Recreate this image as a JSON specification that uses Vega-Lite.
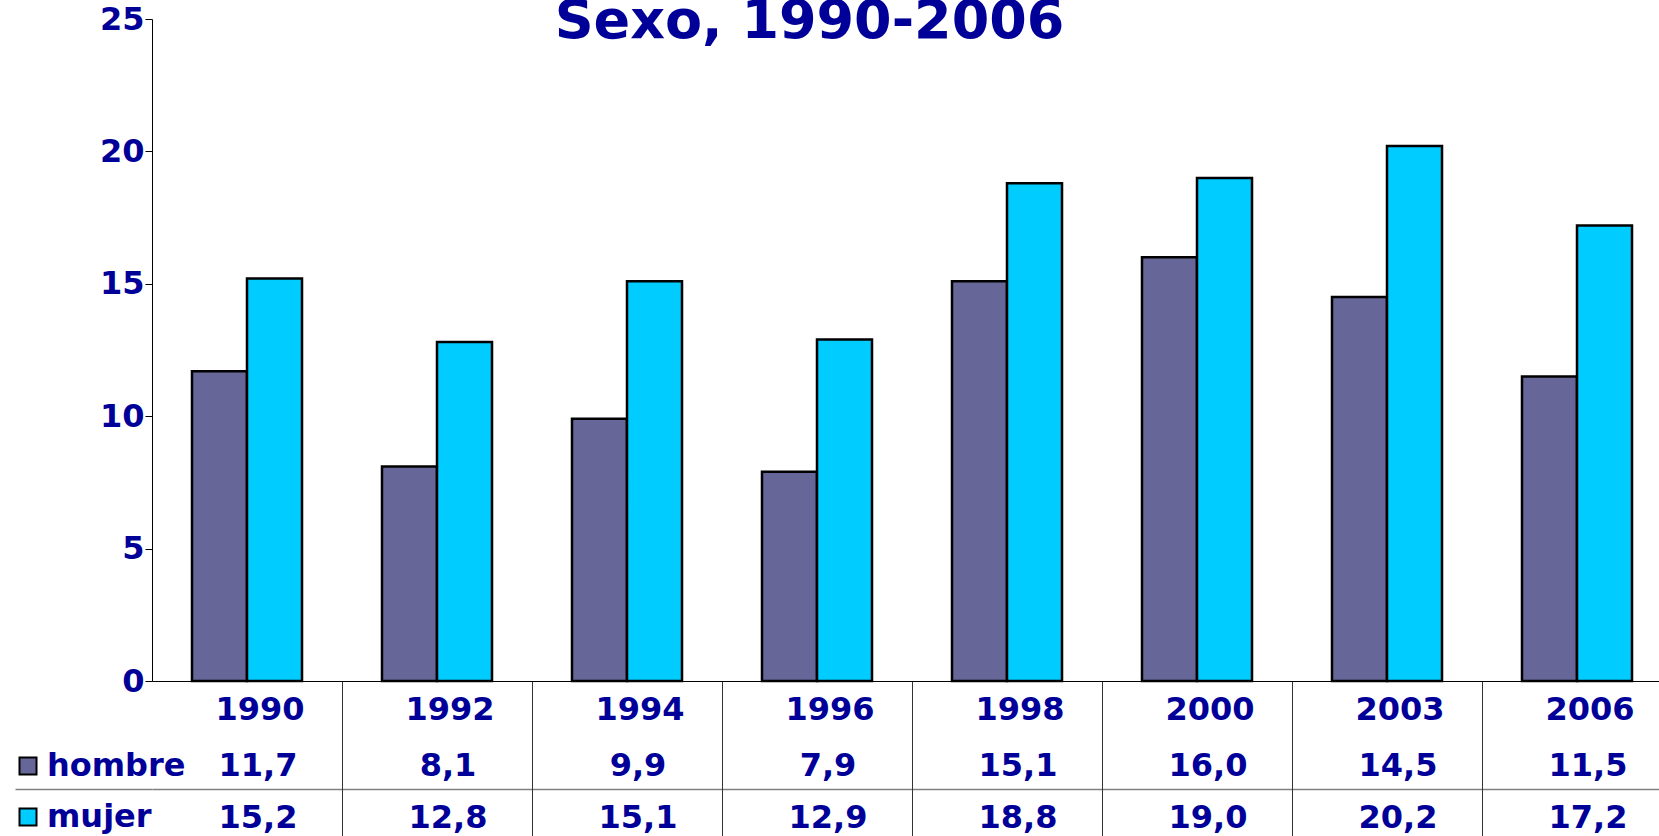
{
  "$schema": "https://vega.github.io/schema/vega-lite/v6.json",
  "width": 1507,
  "height": 662,
  "autosize": {"type": "none"},
  "padding": {"left": 152, "top": 19, "right": 0, "bottom": 155},
  "background": "white",
  "title": {
    "text": "Sexo, 1990-2006",
    "font": "DejaVu Sans",
    "fontSize": 54,
    "fontWeight": "bold",
    "color": "#000099",
    "anchor": "middle",
    "frame": "group",
    "baseline": "alphabetic",
    "dx": -96,
    "offset": -89
  },
  "data": {
    "values": [
      {"anio": "1990", "sexo": "hombre", "valor": 11.7},
      {"anio": "1990", "sexo": "mujer", "valor": 15.2},
      {"anio": "1992", "sexo": "hombre", "valor": 8.1},
      {"anio": "1992", "sexo": "mujer", "valor": 12.8},
      {"anio": "1994", "sexo": "hombre", "valor": 9.9},
      {"anio": "1994", "sexo": "mujer", "valor": 15.1},
      {"anio": "1996", "sexo": "hombre", "valor": 7.9},
      {"anio": "1996", "sexo": "mujer", "valor": 12.9},
      {"anio": "1998", "sexo": "hombre", "valor": 15.1},
      {"anio": "1998", "sexo": "mujer", "valor": 18.8},
      {"anio": "2000", "sexo": "hombre", "valor": 16.0},
      {"anio": "2000", "sexo": "mujer", "valor": 19.0},
      {"anio": "2003", "sexo": "hombre", "valor": 14.5},
      {"anio": "2003", "sexo": "mujer", "valor": 20.2},
      {"anio": "2006", "sexo": "hombre", "valor": 11.5},
      {"anio": "2006", "sexo": "mujer", "valor": 17.2}
    ]
  },
  "layer": [
    {
      "mark": {"type": "bar", "stroke": "black", "strokeWidth": 2.5},
      "encoding": {
        "x": {
          "field": "anio",
          "type": "nominal",
          "sort": null,
          "scale": {"paddingInner": 0, "paddingOuter": 0, "range": [0, 1520]},
          "axis": {
            "title": null,
            "orient": "bottom",
            "domain": true,
            "domainColor": "black",
            "domainWidth": 1,
            "ticks": true,
            "bandPosition": 1,
            "tickSize": 160,
            "tickColor": "#333333",
            "tickWidth": 1,
            "labelAngle": 0,
            "labelFont": "DejaVu Sans",
            "labelFontSize": 32,
            "labelFontWeight": "bold",
            "labelColor": "#000099",
            "labelBaseline": "middle",
            "labelPadding": -132,
            "labelOffset": 13,
            "grid": false
          }
        },
        "xOffset": {
          "field": "sexo",
          "type": "nominal",
          "scale": {"domain": ["hombre", "mujer"], "paddingInner": 0, "paddingOuter": 0.727}
        },
        "y": {
          "field": "valor",
          "type": "quantitative",
          "scale": {"domain": [0, 25], "nice": false},
          "axis": {
            "title": null,
            "values": [0, 5, 10, 15, 20, 25],
            "domainColor": "black",
            "domainWidth": 1,
            "tickColor": "black",
            "tickSize": 7,
            "tickWidth": 1,
            "labelFont": "DejaVu Sans",
            "labelFontSize": 32,
            "labelFontWeight": "bold",
            "labelColor": "#000099",
            "labelPadding": 1,
            "grid": false
          }
        },
        "color": {
          "field": "sexo",
          "type": "nominal",
          "scale": {"domain": ["hombre", "mujer"], "range": ["#666699", "#00CCFF"]},
          "legend": {
            "title": null,
            "orient": "none",
            "legendX": -140,
            "legendY": 731,
            "padding": 0,
            "symbolType": "square",
            "symbolSize": 289,
            "symbolStrokeColor": "black",
            "symbolStrokeWidth": 2,
            "symbolOpacity": 1,
            "labelFont": "DejaVu Sans",
            "labelFontSize": 32,
            "labelFontWeight": "bold",
            "labelColor": "#000099",
            "labelOffset": 3,
            "rowPadding": 19
          }
        }
      }
    },
    {
      "mark": {
        "type": "text",
        "font": "DejaVu Sans",
        "fontWeight": "bold",
        "fontSize": 32,
        "fill": "#000099",
        "baseline": "middle",
        "align": "center",
        "dx": 11
      },
      "encoding": {
        "x": {"field": "anio", "type": "nominal", "sort": null},
        "y": {
          "field": "sexo",
          "type": "nominal",
          "scale": {"type": "point", "domain": ["hombre", "mujer"], "range": [747, 799], "padding": 0},
          "axis": {
            "title": null,
            "orient": "left",
            "values": ["hombre"],
            "tickOffset": 23,
            "labels": false,
            "domain": false,
            "ticks": true,
            "tickSize": 137,
            "tickColor": "#808080",
            "tickWidth": 1.5,
            "grid": true,
            "gridColor": "#808080",
            "gridWidth": 1.5
          }
        },
        "text": {"field": "valor", "type": "quantitative", "format": ".1f"}
      }
    }
  ],
  "resolve": {"scale": {"y": "independent"}, "axis": {"y": "independent"}},
  "config": {
    "view": {"stroke": null},
    "locale": {
      "number": {"decimal": ",", "thousands": ".", "grouping": [3], "currency": ["", " €"]}
    }
  }
}
